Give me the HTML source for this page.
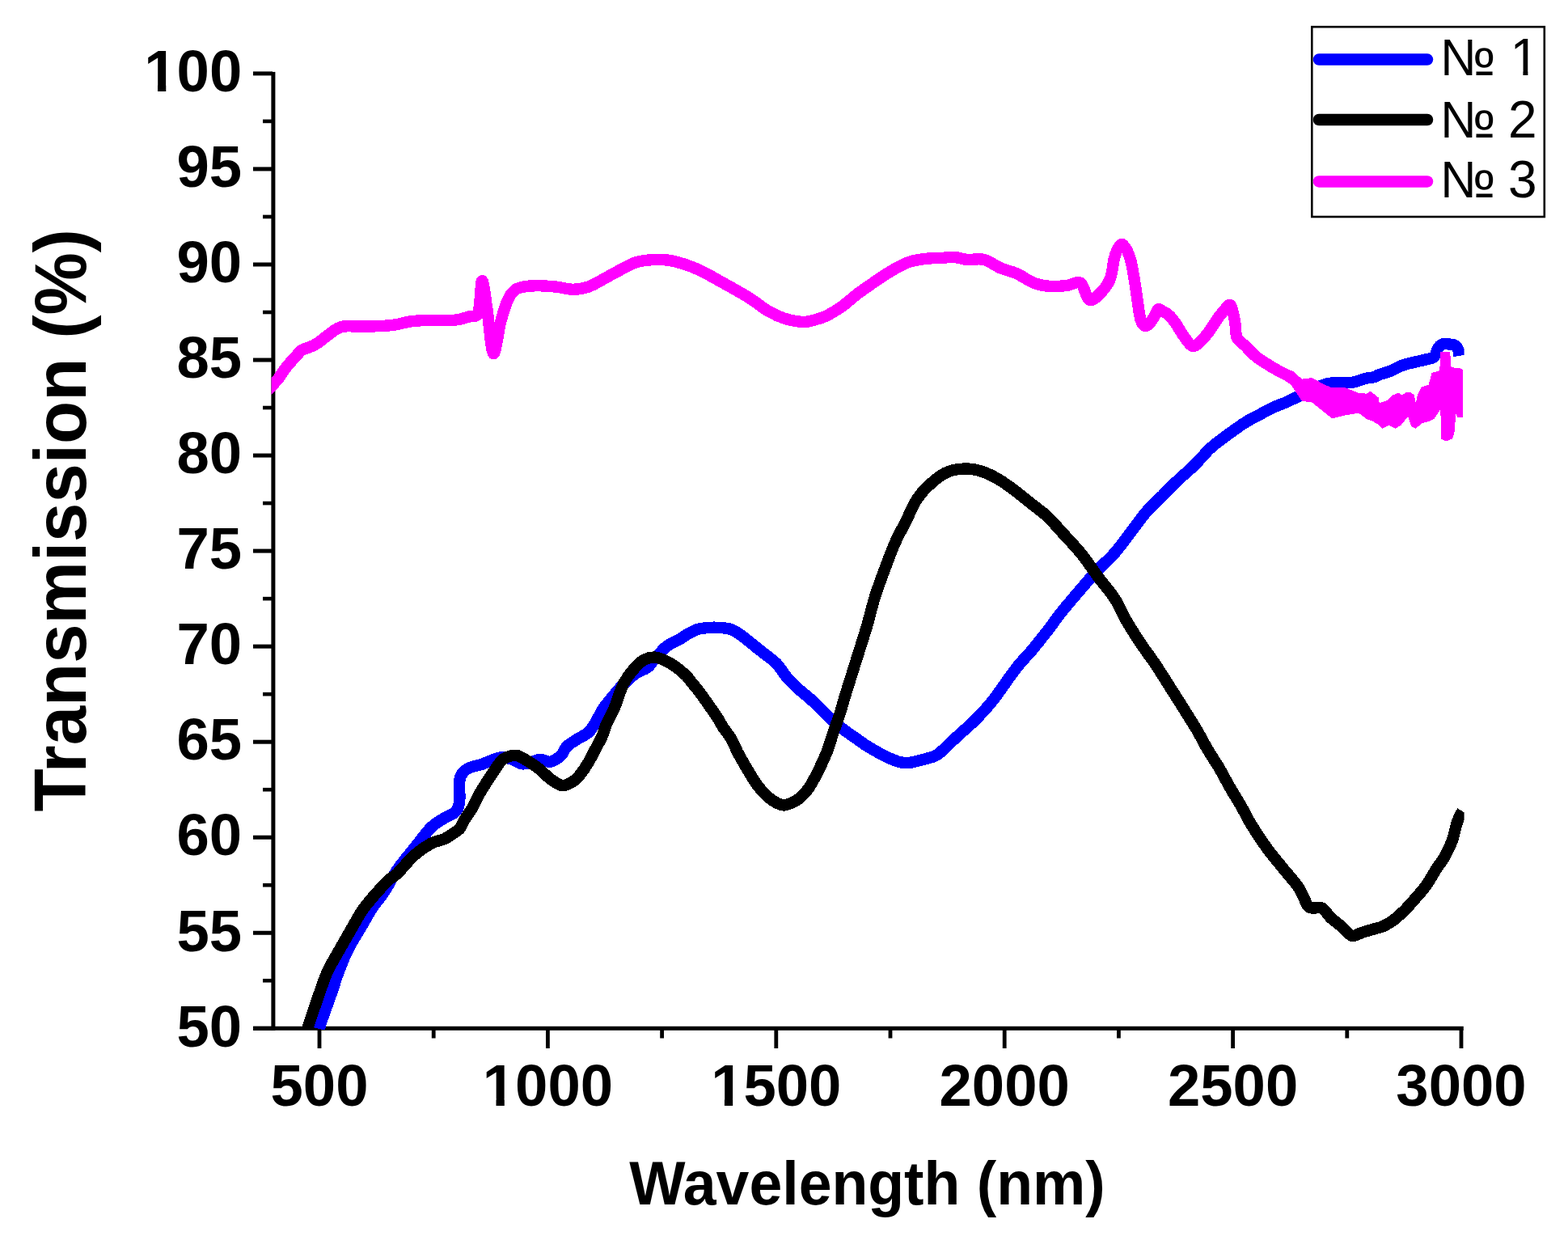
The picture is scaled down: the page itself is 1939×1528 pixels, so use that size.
<!DOCTYPE html>
<html><head><meta charset="utf-8"><title>Transmission spectra</title>
<style>html,body{margin:0;padding:0;background:#fff;}svg{display:block;}</style>
</head><body>
<svg width="1939" height="1528" viewBox="0 0 1939 1528">
<rect width="1939" height="1528" fill="#fff"/>
<g fill="#000">
<rect x="335.4" y="88.9" width="5" height="1185"/>
<rect x="313" y="1268.8" width="1496.8" height="5"/>
<rect x="313" y="1268.80" width="24" height="5"/>
<rect x="313" y="1150.76" width="24" height="5"/>
<rect x="313" y="1032.72" width="24" height="5"/>
<rect x="313" y="914.68" width="24" height="5"/>
<rect x="313" y="796.64" width="24" height="5"/>
<rect x="313" y="678.60" width="24" height="5"/>
<rect x="313" y="560.56" width="24" height="5"/>
<rect x="313" y="442.52" width="24" height="5"/>
<rect x="313" y="324.48" width="24" height="5"/>
<rect x="313" y="206.44" width="24" height="5"/>
<rect x="313" y="88.40" width="24" height="5"/>
<rect x="325" y="1209.98" width="12" height="4.6"/>
<rect x="325" y="1091.94" width="12" height="4.6"/>
<rect x="325" y="973.90" width="12" height="4.6"/>
<rect x="325" y="855.86" width="12" height="4.6"/>
<rect x="325" y="737.82" width="12" height="4.6"/>
<rect x="325" y="619.78" width="12" height="4.6"/>
<rect x="325" y="501.74" width="12" height="4.6"/>
<rect x="325" y="383.70" width="12" height="4.6"/>
<rect x="325" y="265.66" width="12" height="4.6"/>
<rect x="325" y="147.62" width="12" height="4.6"/>
<rect x="392.60" y="1272" width="4.8" height="24"/>
<rect x="675.00" y="1272" width="4.8" height="24"/>
<rect x="957.40" y="1272" width="4.8" height="24"/>
<rect x="1239.80" y="1272" width="4.8" height="24"/>
<rect x="1522.20" y="1272" width="4.8" height="24"/>
<rect x="1804.60" y="1272" width="4.8" height="24"/>
<rect x="533.80" y="1272" width="4.8" height="11.5"/>
<rect x="816.20" y="1272" width="4.8" height="11.5"/>
<rect x="1098.60" y="1272" width="4.8" height="11.5"/>
<rect x="1381.00" y="1272" width="4.8" height="11.5"/>
<rect x="1663.40" y="1272" width="4.8" height="11.5"/>
</g>
<defs><clipPath id="pa"><rect x="335.6" y="60" width="1475" height="1214"/></clipPath></defs>
<g clip-path="url(#pa)" fill="none" stroke-linejoin="round" stroke-linecap="butt" shape-rendering="crispEdges">
<path d="M395.0,1272.0C395.3,1270.7 394.6,1271.2 397.0,1264.0C399.4,1256.8 405.8,1239.5 409.5,1228.9C413.2,1218.4 415.4,1210.1 419.0,1200.7C422.6,1191.3 426.2,1182.0 431.0,1172.6C435.8,1163.2 442.7,1152.6 447.5,1144.4C452.3,1136.2 455.2,1130.3 459.8,1123.3C464.4,1116.3 470.1,1110.2 475.4,1102.2C480.7,1094.2 485.2,1084.1 491.4,1075.1C497.6,1066.1 505.4,1057.1 512.4,1048.4C519.4,1039.7 527.2,1028.8 533.3,1022.7C539.4,1016.6 544.5,1014.5 549.0,1011.7C553.5,1008.9 557.2,1008.0 560.0,1006.0C562.8,1004.0 564.6,1002.5 566.0,999.5C567.4,996.5 567.9,993.8 568.3,988.0C568.7,982.2 567.6,970.5 568.3,965.0C569.0,959.5 570.3,957.7 572.5,955.0C574.7,952.3 577.7,950.5 581.6,948.8C585.5,947.1 591.8,946.2 596.0,944.8C600.2,943.4 602.9,941.7 607.0,940.3C611.1,938.9 616.0,936.5 620.5,936.3C625.0,936.1 629.4,937.6 633.9,939.0C638.4,940.4 641.7,944.4 647.3,944.4C652.9,944.4 661.8,939.5 667.4,939.0C673.0,938.5 676.3,942.6 680.8,941.7C685.3,940.8 690.9,936.7 694.2,933.6C697.6,930.5 697.5,926.2 700.9,922.9C704.2,919.5 709.8,916.4 714.3,913.5C718.8,910.6 724.1,908.8 727.7,905.5C731.3,902.2 732.9,898.7 735.9,893.9C738.9,889.1 742.8,881.1 745.7,876.5C748.7,871.9 749.7,870.8 753.6,866.0C757.5,861.2 763.8,853.4 769.0,848.0C774.2,842.6 779.7,837.2 785.0,833.4C790.3,829.6 796.8,828.1 800.7,825.2C804.6,822.3 804.6,820.1 808.5,815.8C812.4,811.5 819.0,803.4 824.2,799.2C829.5,795.0 836.0,793.0 840.0,790.6C844.0,788.2 844.7,787.2 848.4,785.1C852.1,783.0 857.7,779.6 862.3,778.1C866.9,776.6 871.6,776.4 876.2,776.0C880.8,775.6 885.5,775.6 890.1,776.0C894.8,776.4 899.5,776.4 904.1,778.1C908.8,779.9 913.4,783.2 918.0,786.5C922.6,789.8 927.3,793.9 931.9,797.6C936.5,801.3 941.1,805.0 945.8,808.7C950.4,812.4 955.1,815.0 959.8,819.9C964.4,824.8 969.1,832.7 973.7,838.0C978.3,843.3 982.4,847.1 987.6,851.9C992.8,856.7 998.1,860.3 1005.0,866.8C1011.9,873.2 1022.5,884.6 1029.0,890.6C1035.5,896.6 1039.0,898.8 1044.2,902.7C1049.4,906.6 1055.9,910.9 1060.3,914.0C1064.7,917.1 1067.2,919.1 1070.6,921.3C1074.0,923.5 1076.6,925.0 1080.9,927.4C1085.2,929.8 1091.2,933.3 1096.4,935.7C1101.6,938.1 1107.2,940.7 1111.9,941.9C1116.6,943.1 1118.9,943.5 1124.3,942.9C1129.7,942.3 1138.7,939.8 1144.4,938.2C1150.2,936.6 1154.0,936.2 1158.8,933.2C1163.6,930.2 1168.4,924.6 1173.2,920.2C1178.0,915.8 1182.8,911.3 1187.6,906.9C1192.4,902.5 1197.2,898.5 1202.0,893.9C1206.8,889.3 1211.6,884.5 1216.4,879.2C1221.2,873.9 1224.1,870.9 1230.8,862.0C1237.5,853.1 1248.9,836.0 1256.6,826.1C1264.3,816.2 1270.6,810.4 1277.2,802.5C1283.8,794.6 1289.9,786.8 1296.0,778.9C1302.1,771.0 1307.4,763.2 1313.7,755.4C1320.0,747.5 1326.7,739.9 1333.6,731.8C1340.5,723.7 1347.7,715.0 1355.2,706.9C1362.7,698.8 1371.5,691.5 1378.7,683.3C1385.9,675.1 1391.9,666.3 1398.4,657.8C1405.0,649.3 1411.5,639.8 1418.0,632.3C1424.5,624.8 1431.0,619.1 1437.6,612.6C1444.1,606.1 1450.8,599.2 1457.3,593.0C1463.8,586.8 1470.5,581.6 1476.9,575.3C1483.3,569.0 1490.0,560.6 1495.7,555.1C1501.5,549.6 1506.2,546.5 1511.4,542.5C1516.6,538.5 1521.9,534.7 1527.1,531.0C1532.3,527.3 1537.6,523.6 1542.8,520.5C1548.0,517.4 1553.3,514.9 1558.5,512.1C1563.7,509.3 1569.0,506.2 1574.2,503.8C1579.5,501.4 1585.4,499.5 1590.0,497.5C1594.6,495.5 1596.9,494.2 1601.9,491.8C1606.9,489.4 1613.8,485.8 1620.0,483.0C1626.2,480.2 1633.1,476.7 1639.0,475.0C1644.9,473.3 1650.0,473.2 1655.5,472.8C1661.0,472.4 1666.5,473.6 1672.0,472.8C1677.5,472.0 1684.0,469.0 1688.5,467.9C1693.0,466.8 1696.5,466.9 1699.2,466.2C1701.9,465.5 1701.3,464.8 1704.7,463.5C1708.1,462.2 1714.6,460.6 1719.5,458.6C1724.4,456.6 1729.3,453.5 1734.2,451.7C1739.1,449.9 1744.0,449.0 1748.9,447.8C1753.8,446.6 1759.5,445.5 1763.6,444.4C1767.7,443.3 1771.0,443.4 1773.5,441.0C1776.0,438.6 1776.7,432.6 1778.4,430.0C1780.2,427.4 1781.7,426.2 1784.0,425.5C1786.3,424.8 1789.5,425.2 1792.0,425.5C1794.5,425.8 1797.1,425.8 1799.0,427.0C1800.9,428.2 1802.6,430.8 1803.5,433.0C1804.4,435.2 1804.3,438.8 1804.5,440.0" stroke="#0000ff" stroke-width="14.4"/>
<path d="M380.3,1271.5C380.7,1270.2 380.3,1271.1 382.7,1264.0C385.1,1256.9 390.9,1239.5 394.6,1228.9C398.4,1218.4 400.9,1210.1 405.2,1200.7C409.5,1191.3 415.4,1182.0 420.7,1172.6C426.0,1163.2 432.0,1152.6 436.8,1144.4C441.6,1136.2 444.4,1130.3 449.5,1123.3C454.6,1116.3 461.9,1108.1 467.1,1102.2C472.3,1096.3 476.4,1091.8 480.5,1088.1C484.6,1084.4 486.1,1084.9 491.4,1079.8C496.7,1074.7 505.4,1063.5 512.4,1057.3C519.4,1051.1 527.2,1045.9 533.3,1042.6C539.4,1039.3 544.5,1039.4 549.0,1037.4C553.5,1035.4 556.7,1032.7 560.0,1030.5C563.3,1028.3 566.2,1027.2 568.6,1024.4C571.0,1021.6 571.9,1017.8 574.4,1013.6C576.9,1009.4 581.0,1004.0 583.8,999.2C586.6,994.4 588.4,989.6 591.0,984.8C593.6,980.0 596.6,975.2 599.6,970.4C602.6,965.6 605.8,960.8 609.0,956.0C612.2,951.2 616.2,944.9 619.0,941.6C621.8,938.3 622.6,937.7 626.0,936.4C629.4,935.1 634.5,933.1 639.2,934.0C643.9,934.9 649.3,938.9 654.0,941.7C658.7,944.6 662.9,947.5 667.4,951.1C671.9,954.7 676.1,959.8 680.8,963.1C685.5,966.5 690.8,970.8 695.5,971.2C700.2,971.7 705.4,968.0 709.0,965.8C712.6,963.6 714.1,961.8 717.3,957.8C720.4,953.8 724.8,947.3 727.9,942.1C731.0,936.9 733.4,931.6 736.1,926.4C738.9,921.2 742.0,916.0 744.4,910.7C746.8,905.4 747.6,900.6 750.2,894.5C752.8,888.4 757.6,880.2 760.2,874.2C762.8,868.2 763.7,863.7 765.7,858.5C767.7,853.3 769.4,848.0 772.4,842.8C775.4,837.6 779.7,831.6 783.8,827.1C787.9,822.6 792.0,817.9 796.8,815.5C801.6,813.1 806.6,811.9 812.5,813.0C818.4,814.1 826.2,818.4 832.1,822.0C838.0,825.6 843.9,831.0 847.8,834.6C851.7,838.2 852.2,839.8 855.3,843.6C858.4,847.4 863.0,852.9 866.5,857.5C870.0,862.1 873.0,866.8 876.2,871.4C879.5,876.0 883.0,880.6 886.0,885.3C889.0,889.9 891.3,894.6 894.3,899.3C897.3,903.9 901.0,907.9 904.1,913.2C907.2,918.5 909.6,925.1 912.8,931.2C916.0,937.3 919.9,943.9 923.5,949.9C927.1,955.9 930.2,961.8 934.2,967.4C938.2,973.0 943.2,979.2 947.7,983.5C952.2,987.8 957.2,990.9 961.1,992.9C965.0,994.9 966.7,996.1 971.1,995.2C975.5,994.3 982.9,991.0 987.8,987.4C992.7,983.8 996.4,979.5 1000.6,973.5C1004.8,967.5 1009.1,958.6 1012.8,951.2C1016.5,943.8 1019.9,936.4 1022.8,929.0C1025.7,921.6 1027.6,914.1 1030.1,906.7C1032.6,899.3 1035.5,891.9 1037.9,884.5C1040.3,877.1 1042.2,869.6 1044.5,862.2C1046.8,854.8 1048.5,849.2 1051.4,840.0C1054.3,830.8 1058.2,818.3 1061.7,807.2C1065.2,796.1 1069.0,784.6 1072.3,773.2C1075.6,761.9 1078.1,750.5 1081.6,739.1C1085.1,727.8 1089.3,716.4 1093.5,705.1C1097.7,693.8 1102.4,681.1 1106.8,671.1C1111.2,661.1 1115.5,654.0 1120.0,645.0C1124.5,636.0 1128.8,624.9 1134.1,616.9C1139.4,608.9 1145.5,602.8 1151.7,597.3C1157.9,591.8 1164.2,586.6 1171.4,583.6C1178.6,580.6 1187.4,579.5 1194.9,579.5C1202.4,579.5 1209.6,581.3 1216.5,583.6C1223.4,585.9 1229.7,589.5 1236.2,593.4C1242.8,597.3 1249.3,602.2 1255.8,607.1C1262.3,612.0 1268.9,617.6 1275.4,622.8C1282.0,628.0 1288.9,632.7 1295.1,638.5C1301.3,644.3 1305.7,649.8 1312.7,657.5C1319.8,665.2 1330.0,675.8 1337.4,685.0C1344.9,694.2 1350.6,703.3 1357.4,712.5C1364.2,721.7 1372.6,730.8 1378.5,740.0C1384.4,749.2 1387.7,758.3 1393.0,767.5C1398.3,776.7 1404.2,785.8 1410.3,795.0C1416.4,804.2 1422.9,812.4 1429.6,822.5C1436.3,832.6 1444.6,846.0 1450.6,855.4C1456.6,864.8 1460.5,871.0 1465.4,878.9C1470.3,886.8 1475.5,894.6 1480.1,902.5C1484.7,910.4 1488.5,918.2 1493.1,926.1C1497.7,934.0 1503.2,941.8 1507.8,949.6C1512.4,957.5 1516.3,965.3 1520.8,973.2C1525.3,981.1 1530.4,989.0 1534.9,996.8C1539.4,1004.6 1542.5,1011.6 1547.8,1020.2C1553.1,1028.8 1560.3,1039.8 1566.6,1048.5C1572.9,1057.2 1578.9,1063.9 1585.5,1072.1C1592.1,1080.3 1601.0,1090.0 1606.2,1097.8C1611.4,1105.6 1613.8,1114.6 1616.6,1118.7C1619.4,1122.8 1620.1,1121.9 1623.2,1122.6C1626.3,1123.2 1631.3,1120.6 1635.0,1122.6C1638.7,1124.6 1641.5,1130.7 1645.4,1134.4C1649.3,1138.1 1654.1,1141.2 1658.5,1144.9C1662.9,1148.6 1667.2,1155.4 1671.6,1156.7C1676.0,1158.0 1680.3,1154.0 1684.7,1152.7C1689.1,1151.4 1693.4,1150.1 1697.8,1148.8C1702.2,1147.5 1706.6,1146.9 1710.9,1144.9C1715.2,1142.9 1719.6,1140.3 1723.9,1137.0C1728.2,1133.7 1732.6,1129.6 1737.0,1125.3C1741.4,1121.0 1745.7,1115.9 1750.1,1110.9C1754.5,1105.9 1758.8,1101.3 1763.2,1095.2C1767.6,1089.1 1772.4,1080.3 1776.3,1074.2C1780.2,1068.1 1783.5,1064.4 1786.8,1058.5C1790.1,1052.6 1793.5,1045.4 1795.9,1038.9C1798.3,1032.4 1799.6,1024.3 1801.1,1019.3C1802.6,1014.3 1803.8,1011.7 1805.0,1009.0C1806.2,1006.3 1807.9,1004.0 1808.5,1003.0" stroke="#000" stroke-width="14.4"/>
<path d="M330.0,483.0C331.3,481.7 335.5,477.5 337.9,475.0C340.3,472.5 342.1,470.8 344.4,467.8C346.7,464.8 349.2,460.2 351.6,457.0C354.0,453.8 356.4,451.1 358.8,448.3C361.2,445.5 363.6,443.0 366.0,440.4C368.4,437.8 370.8,434.5 373.2,432.8C375.6,431.1 378.0,430.9 380.4,430.0C382.8,429.1 385.2,428.3 387.6,427.1C390.0,425.9 392.4,424.5 394.8,422.8C397.2,421.1 399.6,418.9 402.0,417.0C404.4,415.1 406.8,413.3 409.2,411.6C411.6,409.9 414.0,407.9 416.4,406.6C418.8,405.3 420.6,404.2 423.6,403.7C426.6,403.1 429.4,403.3 434.4,403.3C439.4,403.3 445.4,403.8 453.8,403.6C462.2,403.4 475.7,403.0 484.7,402.0C493.7,401.0 500.3,398.4 508.0,397.4C515.7,396.4 522.1,396.1 531.1,395.8C540.1,395.5 553.8,396.6 562.1,395.8C570.4,395.0 575.8,392.8 580.7,391.2C585.6,389.6 588.9,393.8 591.5,386.5C594.1,379.2 594.3,348.1 596.1,347.3C597.9,346.5 600.0,366.9 602.3,381.9C604.6,396.8 607.2,434.4 610.0,437.0C612.8,439.6 616.2,408.5 619.3,397.4C622.3,386.2 625.4,376.5 628.3,370.1C631.2,363.7 633.4,361.4 636.5,358.8C639.6,356.2 642.3,355.6 646.8,354.7C651.3,353.8 656.4,353.2 663.3,353.2C670.2,353.2 680.5,353.9 688.1,354.7C695.7,355.5 702.2,357.8 708.7,357.8C715.2,357.8 721.4,356.6 727.3,354.7C733.1,352.8 737.6,349.7 743.8,346.4C750.0,343.1 757.5,338.7 764.4,335.1C771.3,331.5 778.1,327.1 785.0,324.8C791.9,322.5 798.8,321.7 805.7,321.2C812.6,320.7 819.4,320.8 826.3,321.7C833.2,322.6 840.0,324.6 846.9,326.8C853.8,329.0 860.6,331.8 867.5,335.1C874.4,338.4 881.3,342.6 888.2,346.4C895.1,350.2 901.9,353.9 908.8,357.8C915.7,361.8 922.5,365.6 929.4,370.1C936.3,374.6 943.2,380.6 950.1,384.6C957.0,388.6 963.8,391.7 970.7,393.9C977.6,396.1 986.4,397.4 991.3,398.0C996.2,398.6 995.1,398.4 1000.0,397.3C1004.9,396.2 1013.7,394.2 1020.6,391.1C1027.5,388.0 1034.4,383.5 1041.3,378.7C1048.2,373.9 1055.0,367.3 1061.9,362.2C1068.8,357.1 1075.6,352.4 1082.5,347.8C1089.4,343.2 1096.2,338.4 1103.1,334.4C1110.0,330.4 1116.9,326.4 1123.8,324.0C1130.7,321.6 1137.5,320.8 1144.4,319.9C1151.3,319.0 1159.2,319.2 1165.0,318.9C1170.8,318.5 1174.3,317.5 1179.5,317.8C1184.7,318.1 1189.8,320.4 1196.0,320.9C1202.2,321.4 1209.7,319.2 1216.6,320.9C1223.5,322.6 1230.3,328.4 1237.2,331.3C1244.1,334.2 1251.0,335.4 1257.9,338.5C1264.8,341.6 1271.6,347.2 1278.5,349.8C1285.4,352.4 1292.2,353.5 1299.1,354.0C1306.0,354.5 1313.6,353.6 1319.8,352.9C1326.0,352.2 1331.8,346.9 1336.3,349.8C1340.8,352.7 1342.8,368.1 1346.6,370.5C1350.4,372.9 1354.6,368.5 1358.9,364.3C1363.2,360.1 1369.4,352.9 1372.6,345.4C1375.8,337.9 1376.2,325.8 1377.9,319.3C1379.7,312.8 1381.2,308.9 1383.1,306.2C1384.9,303.5 1386.6,300.8 1389.0,303.0C1391.4,305.2 1395.2,312.2 1397.5,319.3C1399.8,326.4 1401.2,336.7 1402.7,345.4C1404.2,354.1 1405.3,363.3 1406.6,371.6C1407.9,379.9 1408.8,390.0 1410.6,395.2C1412.3,400.4 1414.7,403.0 1417.1,403.0C1419.5,403.0 1422.6,398.5 1425.0,395.2C1427.4,391.9 1429.8,385.4 1431.5,383.4C1433.2,381.4 1433.0,382.3 1435.4,383.4C1437.8,384.5 1442.6,386.9 1445.9,390.0C1449.2,393.1 1452.0,397.3 1455.1,401.7C1458.1,406.1 1460.9,411.7 1464.2,416.1C1467.5,420.5 1471.2,427.0 1474.7,427.9C1478.2,428.8 1481.9,424.2 1485.2,421.4C1488.5,418.6 1491.0,415.3 1494.3,410.9C1497.6,406.5 1501.5,399.8 1504.8,395.2C1508.1,390.6 1511.2,386.3 1514.0,383.4C1516.8,380.4 1519.6,375.1 1521.8,377.5C1524.0,379.9 1525.8,391.2 1527.1,397.8C1528.4,404.4 1527.5,412.4 1529.7,417.4C1531.9,422.4 1536.3,424.0 1540.2,427.9C1544.1,431.8 1547.6,436.4 1553.3,440.9C1559.0,445.3 1568.1,450.9 1574.2,454.6C1580.3,458.3 1586.0,460.8 1590.0,463.0C1594.0,465.2 1596.7,467.2 1598.0,468.0" stroke="#ff00ff" stroke-width="14.4"/>
<polygon points="1590.0,457.0 1597.8,458.0 1610.1,468.7 1622.5,467.0 1639.0,476.1 1647.3,479.4 1663.8,479.4 1680.3,486.0 1690.0,486.6 1694.9,483.6 1704.7,491.5 1705.7,498.4 1714.5,495.4 1722.4,488.5 1729.3,485.6 1734.2,488.5 1739.1,484.6 1744.0,484.6 1748.9,488.5 1750.9,498.4 1752.8,488.5 1757.7,478.7 1766.6,475.8 1770.5,461.1 1780.3,458.1 1781.3,434.5 1793.1,434.5 1794.6,454.2 1804.9,455.2 1809.3,457.1 1809.3,515.5 1802.0,515.5 1800.0,511.1 1799.0,532.7 1796.0,542.5 1788.2,545.5 1782.3,542.5 1781.3,506.2 1778.4,510.1 1773.5,518.0 1764.6,521.9 1758.7,522.9 1750.9,529.8 1745.0,526.8 1741.1,515.1 1732.2,525.9 1725.3,529.8 1717.5,525.9 1709.6,529.8 1704.7,524.9 1695.9,520.0 1690.0,518.0 1680.3,510.8 1663.8,513.2 1647.3,517.4 1639.0,510.8 1622.5,497.6 1610.1,495.9 1597.8,477.8 1590.0,470.0" fill="#ff00ff" stroke="none"/>
</g>
<g font-family="Liberation Sans, Arial, sans-serif" font-weight="bold" font-size="72.5" fill="#000">
<text x="218.56" y="1293.5">50</text>
<text x="218.56" y="1175.5">55</text>
<text x="218.56" y="1057.4">60</text>
<text x="218.56" y="939.4">65</text>
<text x="218.56" y="821.3">70</text>
<text x="218.56" y="703.3">75</text>
<text x="218.56" y="585.3">80</text>
<text x="218.56" y="467.2">85</text>
<text x="218.56" y="349.2">90</text>
<text x="218.56" y="231.1">95</text>
<text x="178.24" y="113.1">100</text>
<text x="334.52" y="1366.8">500</text>
<text x="596.76" y="1366.8">1000</text>
<text x="879.16" y="1366.8">1500</text>
<text x="1161.56" y="1366.8">2000</text>
<text x="1443.96" y="1366.8">2500</text>
<text x="1726.36" y="1366.8">3000</text>
</g>
<text transform="translate(1072.5,1489) scale(1,1.03)" text-anchor="middle" font-family="Liberation Sans, Arial, sans-serif" font-weight="bold" font-size="73.4" fill="#000">Wavelength (nm)</text>
<text transform="translate(106,1003.5) rotate(-90) scale(1,1.038)" font-family="Liberation Sans, Arial, sans-serif" font-weight="bold" font-size="87" fill="#000">Transmission (%)</text>
<rect x="1622.3" y="33.2" width="287.5" height="234.8" fill="#fff" stroke="#000" stroke-width="2.6"/>
<g stroke-width="14.5" stroke-linecap="round">
<line x1="1631" y1="73.6" x2="1765" y2="73.6" stroke="#0000ff"/>
<line x1="1631" y1="148" x2="1765" y2="148" stroke="#000"/>
<line x1="1631" y1="224.4" x2="1765" y2="224.4" stroke="#ff00ff"/>
</g>
<g font-family="Liberation Sans, Arial, sans-serif" font-size="64" fill="#000">
<text y="93.4"><tspan x="1780.5">№</tspan><tspan x="1867.5">1</tspan></text>
<text y="170"><tspan x="1780.5">№</tspan><tspan x="1865">2</tspan></text>
<text y="244.2"><tspan x="1780.5">№</tspan><tspan x="1865">3</tspan></text>
</g>
<g fill="#fff"><rect x="181.80" y="104.70" width="13.20" height="9.60"/><rect x="205.26" y="104.70" width="12.28" height="9.60"/><rect x="600.32" y="1358.40" width="13.20" height="9.60"/><rect x="623.78" y="1358.40" width="12.28" height="9.60"/><rect x="882.72" y="1358.40" width="13.20" height="9.60"/><rect x="906.18" y="1358.40" width="12.28" height="9.60"/><rect x="1871.38" y="87.62" width="12.07" height="6.98"/><rect x="1889.40" y="87.62" width="11.57" height="6.98"/></g>
</svg>
</body></html>
